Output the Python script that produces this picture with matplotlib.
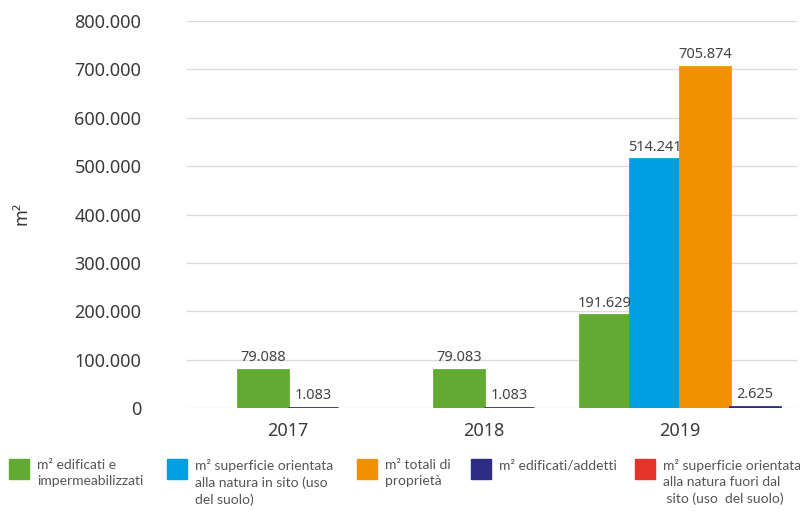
import matplotlib
matplotlib.use("Agg")
import matplotlib.pyplot as plt
from matplotlib.patches import Rectangle
import numpy as np

years = ["2017", "2018", "2019"]
series_names = [
    "m² edificati e\nimpermeabilizzati",
    "m² superficie orientata\nalla natura in sito (uso\ndel suolo)",
    "m² totali di\nproprietà",
    "m² edificati/addetti",
    "m² superficie orientata\nalla natura fuori dal\n sito (uso  del suolo)",
]
colors = ["#62ab32", "#009fe3", "#f39200", "#2d2e83", "#e63329"]
# None = no value for that year
edificati = [79088, 79083, 191629]
natura_sito = [None, None, 514241]
totali = [None, None, 705874]
edificati_addetti = [1083, 1083, 2625]
natura_fuori = [None, None, None]
series = [edificati, natura_sito, totali, edificati_addetti, natura_fuori]
yticks = [0, 100000, 200000, 300000, 400000, 500000, 600000, 700000, 800000]

def fmt(v):
    return f"{v:,.0f}".replace(",", ".")

fig = plt.figure(figsize=(8, 5.12), dpi=100)
ax = fig.add_axes([0.234, 0.203, 0.762, 0.756])

bw = 0.255
for ci, yr in enumerate(years):
    present = [si for si in range(len(series)) if series[si][ci] is not None]
    n = len(present)
    for k, si in enumerate(present):
        x = ci + (k - (n - 1) / 2) * bw
        v = series[si][ci]
        ax.bar(x, v, width=bw, color=colors[si], edgecolor=colors[si],
               linewidth=2.0, zorder=3)
        ax.text(x, v + 9000, fmt(v), ha="center", va="bottom",
                fontsize=10.5, color="#444444", family="Noto Sans", zorder=4)

ax.set_xlim(-0.515, 2.597)
ax.set_ylim(0, 800000)
ax.set_yticks(yticks)
ax.set_yticklabels([fmt(t) for t in yticks], family="Noto Sans", fontsize=13,
                   color="#3a3a3a")
ax.set_xticks(range(len(years)))
ax.set_xticklabels(years, family="Noto Sans", fontsize=13, color="#3a3a3a")
ax.tick_params(axis="both", length=0)
ax.tick_params(axis="y", pad=33)
ax.tick_params(axis="x", pad=10)
ax.grid(axis="y", color="#dcdcdc", linewidth=1, zorder=0)
for s in ax.spines.values():
    s.set_visible(False)
ax.set_axisbelow(True)

fig.text(22 / 800, 1 - 213 / 512, "m²", rotation=90, ha="center", va="center",
         fontsize=13, color="#3a3a3a", family="Noto Sans")

# legend
sq_x = [9, 167, 357, 471, 635]
for i, name in enumerate(series_names):
    x0 = sq_x[i] / 800
    fig.add_artist(Rectangle((x0, 1 - 479 / 512), 20 / 800, 20 / 512,
                             transform=fig.transFigure, color=colors[i]))
    fig.text(x0 + 28 / 800, 1 - 459 / 512, name, ha="left", va="top",
             fontsize=10, color="#555555", family="Lato", linespacing=1.4)

fig.savefig("out.png", dpi=100)
